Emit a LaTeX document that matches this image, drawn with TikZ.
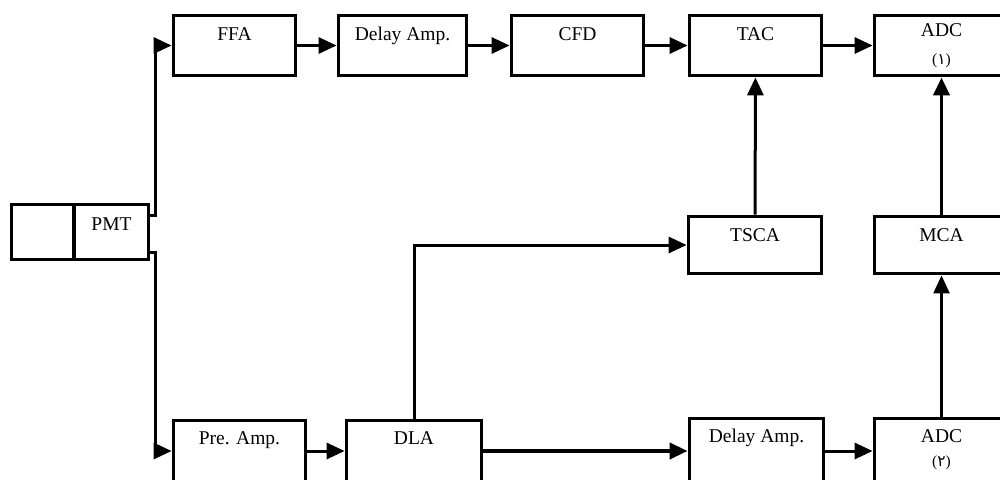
\documentclass[tikz,border=0pt]{standalone}
\usepackage{fontspec}
\setmainfont{Liberation Serif}
\newfontfamily\arabicfont[Script=Arabic]{DejaVu Sans}
\usetikzlibrary{arrows.meta,calc}
\begin{document}
\begin{tikzpicture}[x=1pt,y=-1pt,
  box/.style={draw, line width=3.8pt, rectangle, inner sep=0pt},
  txt/.style={anchor=base, inner sep=0pt, font=\fontsize{19.5}{22}\selectfont},
  sml/.style={anchor=base, inner sep=0pt, font=\fontsize{15.5}{17}\selectfont},
  conn/.style={line width=3pt, -{Triangle[length=18pt,width=16pt]}},
  thick conn/.style={conn, line width=3.8pt},
  thin conn/.style={conn, line width=2.3pt},
]
\path[use as bounding box, clip] (0,0) rectangle (1000,479);

% PMT
\node[box, minimum width=62pt, minimum height=55pt] (scint) at (42.5,232) {};
\node[box, minimum width=74pt, minimum height=55pt] (pmt) at (111.5,232) {};
\node[txt] (pmtt) at ($(pmt.north)+(0,28)$) {PMT};

% top row
\node[box, minimum width=122pt, minimum height=60pt] (ffa) at (234.5,45.5) {};
\node[txt] (ffat) at ($(ffa.north)+(0,27)$) {FFA};
\node[box, minimum width=128pt, minimum height=60pt] (dly1) at (402.5,45.5) {};
\node[txt] (dly1t) at ($(dly1.north)+(0,27)$) {Delay Amp.};
\node[box, minimum width=132pt, minimum height=60pt] (cfd) at (577.5,45.5) {};
\node[txt] (cfdt) at ($(cfd.north)+(0,27)$) {CFD};
\node[box, minimum width=132pt, minimum height=60pt] (tac) at (755.5,45.5) {};
\node[txt] (tact) at ($(tac.north)+(0,27)$) {TAC};
\node[box, minimum width=134pt, minimum height=60pt] (adc1) at (941.5,45.5) {};
\node[txt] (adc1t) at ($(adc1.north)+(0,23)$) {ADC};
\node[sml] (adc1n) at ($(adc1.north)+(0,51)$) {(\arabicfont ١\normalfont)};

% middle row
\node[box, minimum width=133pt, minimum height=57pt] (tsca) at (755,245) {};
\node[txt] (tscat) at ($(tsca.north)+(0,27)$) {TSCA};
\node[box, minimum width=134pt, minimum height=57pt] (mca) at (941.5,245) {};
\node[txt] (mcat) at ($(mca.north)+(0,27)$) {MCA};

% bottom row
\node[box, minimum width=132pt, minimum height=61pt] (pre) at (239.5,451) {};
\node[txt] (pret) at ($(pre.north)+(0,26)$) {Pre. Amp.};
\node[box, minimum width=135pt, minimum height=61pt] (dla) at (414,451) {};
\node[txt] (dlat) at ($(dla.north)+(0,26)$) {DLA};
\node[box, minimum width=134pt, minimum height=65pt] (dly2) at (756.5,451) {};
\node[txt] (dly2t) at ($(dly2.north)+(0,26)$) {Delay Amp.};
\node[box, minimum width=134pt, minimum height=65pt] (adc2) at (941.5,451) {};
\node[txt] (adc2t) at ($(adc2.north)+(0,26)$) {ADC};
\node[sml] (adc2n) at ($(adc2.north)+(0,50)$) {(\arabicfont ٢\normalfont)};

% connectors from PMT
\coordinate (k1) at (155,215);
\coordinate (k2) at (155,252);
\draw[conn] (pmt.east |- k1) -- (k1) |- (ffa.west);
\draw[conn] (pmt.east |- k2) -- (k2) |- (pre.west);

% top chain
\draw[conn] (ffa) -- (dly1);
\draw[conn] (dly1) -- (cfd);
\draw[conn] (cfd) -- (tac);
\draw[conn] (tac) -- (adc1);

% bottom chain
\draw[conn] (pre) -- (dla);
\draw[thick conn] (dla) -- (dly2);
\draw[conn] (dly2) -- (adc2);

% verticals
\draw[conn] (dla.north) |- (tsca.west);
\draw[conn] (tsca) -- (tac);
\draw[thick conn] (mca) -- (adc1);
\draw[thin conn] (adc2) -- (mca);
\end{tikzpicture}
\end{document}
